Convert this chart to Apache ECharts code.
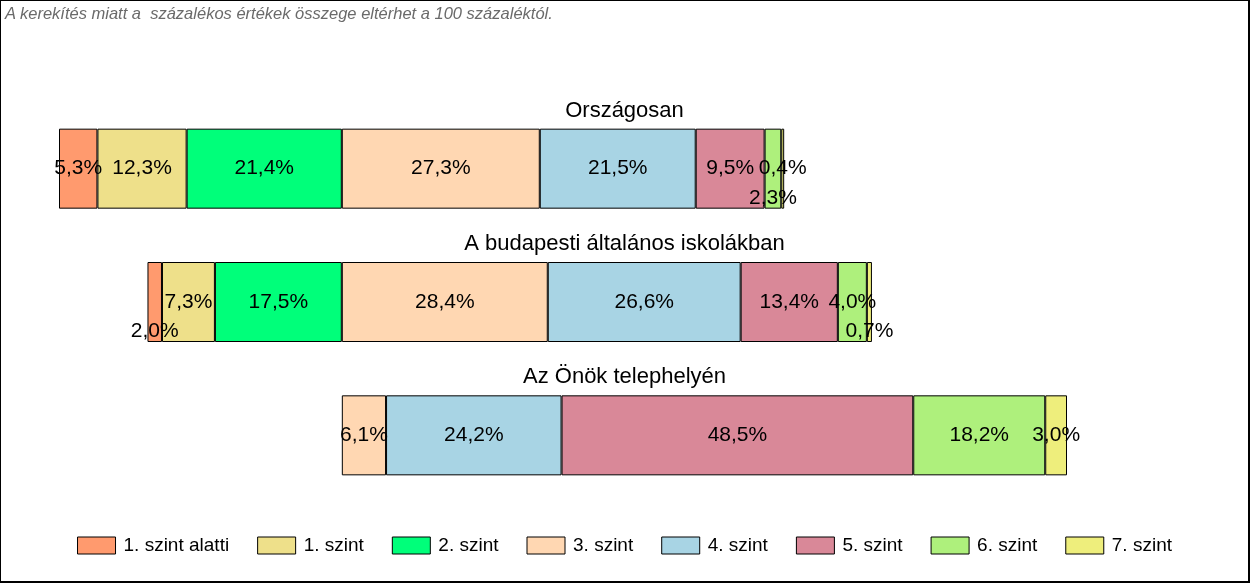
<!DOCTYPE html>
<html>
<head>
<meta charset="utf-8">
<script src="https://cdn.jsdelivr.net/npm/echarts@6/dist/echarts.min.js"></script>
<style>
html,body{margin:0;padding:0;background:#fff;}
#wrap{position:relative;width:1250px;height:583px;box-sizing:border-box;border-style:solid;border-color:#000;border-width:1px 2px 2px 1px;}
#note{position:absolute;left:4px;top:3px;font-family:"Liberation Sans",Arial,sans-serif;font-style:italic;font-size:16.5px;color:#6a6a6a;white-space:pre;}
#chart{position:absolute;left:0;top:0;width:1247px;height:580px;}
</style>
</head>
<body>
<div id="wrap">
<div id="chart"></div>
<div id="note">A kerekítés miatt a  százalékos értékek összege eltérhet a 100 százaléktól.</div>
</div>
<script>
// Categories (bars, top to bottom)
const categories = ['Országosan', 'A budapesti általános iskolákban', 'Az Önök telephelyén'];
// Series (levels)
const levels = ['1. szint alatti', '1. szint', '2. szint', '3. szint', '4. szint', '5. szint', '6. szint', '7. szint'];
// Values per level, one per category (percent)
const lvlBelow1 = [5.3, 2.0, null];
const lvl1 = [12.3, 7.3, null];
const lvl2 = [21.4, 17.5, null];
const lvl3 = [27.3, 28.4, 6.1];
const lvl4 = [21.5, 26.6, 24.2];
const lvl5 = [9.5, 13.4, 48.5];
const lvl6 = [2.3, 4.0, 18.2];
const lvl7 = [0.4, 0.7, 3.0];
const seriesValues = [lvlBelow1, lvl1, lvl2, lvl3, lvl4, lvl5, lvl6, lvl7];
// Levels below "3. szint" are drawn to the left of the common alignment line
const leftLevelCount = 3;

// Styles
const colors = ['#FF9A6E', '#EEE08A', '#00FF7A', '#FFD7B2', '#A8D4E4', '#D98898', '#AEF07C', '#EEEE7C'];
// labels moved to the bottom of the bar to avoid overlap: [levelIndex, categoryIndex]
const bottomLabels = [[6, 0], [0, 1], [7, 1]];

const leftSums = categories.map((c, i) => seriesValues.slice(0, leftLevelCount).reduce((s, arr) => s + (arr[i] || 0), 0));
const maxLeft = Math.max(...leftSums);
const offsets = leftSums.map(v => +(maxLeft - v).toFixed(4));
const totals = categories.map((c, i) => offsets[i] + seriesValues.reduce((s, arr) => s + (arr[i] || 0), 0));
const xMax = Math.round(Math.max(...totals));

const fmt = v => v.toFixed(1).replace('.', ',') + '%';
const FONT = 'Liberation Sans, Arial, sans-serif';

const series = [{
  name: '_offset', type: 'bar', stack: 'all', data: offsets,
  itemStyle: { color: 'transparent', borderWidth: 0 }, label: { show: false },
  silent: true, barCategoryGap: '40%'
}];
levels.forEach((name, li) => {
  series.push({
    name, type: 'bar', stack: 'all',
    barCategoryGap: '40%',
    itemStyle: { color: colors[li], borderColor: '#000', borderWidth: 1 },
    label: {
      show: true, position: 'inside', color: '#000', fontSize: 21,
      fontFamily: FONT,
      formatter: p => fmt(p.value)
    },
    data: seriesValues[li].map((v, ci) => {
      if (v == null) return '-';
      const moved = bottomLabels.some(b => b[0] === li && b[1] === ci);
      return moved ? { value: v, label: { position: 'insideBottom', distance: 0 } } : v;
    })
  });
});

const chart = echarts.init(document.getElementById('chart'), null, { renderer: 'canvas' });
chart.setOption({
  animation: false,
  textStyle: { fontFamily: FONT },
  grid: { left: 58, right: 181, top: 101, bottom: 79, containLabel: false },
  xAxis: { type: 'value', min: 0, max: xMax, show: false },
  yAxis: { type: 'category', data: categories, inverse: true, show: false },
  legend: {
    data: levels, bottom: 21, left: 'center',
    itemWidth: 38, itemHeight: 17, itemGap: 28,
    icon: 'rect',
    itemStyle: { borderColor: '#000', borderWidth: 1 },
    textStyle: { fontSize: 19, color: '#000', fontFamily: FONT, padding: [0, 0, 0, 3] }
  },
  series
});

// Category titles, centred on the chart, placed above each bar
const W = chart.getWidth();
const c0 = chart.convertToPixel({ yAxisIndex: 0 }, categories[0]);
const c1 = chart.convertToPixel({ yAxisIndex: 0 }, categories[1]);
const band = c1 - c0;
chart.setOption({
  graphic: categories.map(cat => ({
    type: 'text',
    x: W / 2, y: chart.convertToPixel({ yAxisIndex: 0 }, cat) - band * 0.3 - 7,
    style: { text: cat, fontSize: 22, fill: '#000', align: 'center', verticalAlign: 'bottom',
             fontFamily: FONT }
  }))
});
</script>
</body>
</html>
